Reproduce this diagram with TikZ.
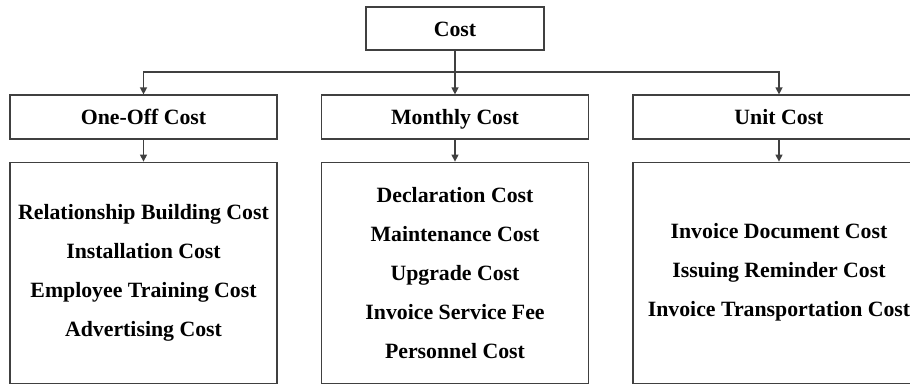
\documentclass[tikz,border=0pt]{standalone}
\usepackage{fontspec}
\setmainfont{Liberation Serif}
\usepackage{tikz}
\usetikzlibrary{arrows.meta}
\usetikzlibrary{positioning}
\tikzset{>={Triangle[length=7pt,width=7pt]}}
\definecolor{linegray}{RGB}{64,64,64}
\tikzstyle{costbox} = [rectangle, draw=linegray, line width=1.2pt, inner sep=0pt, font=\fontsize{21.8pt}{39pt}\selectfont\bfseries, align=center]
\tikzstyle{headbox} = [costbox, text height=15pt, text depth=0pt]
\tikzstyle{link} = [->, draw=linegray, line width=1.3pt]

\begin{document}
\begin{tikzpicture}[x=1pt, y=-1pt]
\useasboundingbox (0,0) rectangle (910,383);
\node [headbox, minimum width=178pt, minimum height=43pt] (cost) at (455, 28.5) {Cost};
\node [headbox, minimum width=267pt, minimum height=44pt] (oneoff) at (143.5, 117) {One-Off Cost};
\node [headbox, minimum width=267pt, minimum height=44pt] (monthly) at (455, 117) {Monthly Cost};
\node [headbox, minimum width=292pt, minimum height=44pt] (unit) at (779, 117) {Unit Cost};
\node [costbox, minimum width=267pt, minimum height=221pt, below=22pt of oneoff] (oneoffitems) {Relationship Building Cost\\ Installation Cost\\ Employee Training Cost\\ Advertising Cost};
\node [costbox, minimum width=267pt, minimum height=221pt, below=22pt of monthly] (monthlyitems) {Declaration Cost\\ Maintenance Cost\\ Upgrade Cost\\ Invoice Service Fee\\ Personnel Cost};
\node [costbox, minimum width=292pt, minimum height=221pt, below=22pt of unit] (unititems) {Invoice Document Cost\\ Issuing Reminder Cost\\ Invoice Transportation Cost};
\coordinate (split) at (455, 72);
\draw [link] (cost.south) -- (monthly.north);
\draw [link] (split) -| (oneoff.north);
\draw [link] (split) -| (unit.north);
\draw [link] (oneoff) -- (oneoffitems);
\draw [link] (monthly) -- (monthlyitems);
\draw [link] (unit) -- (unititems);
\end{tikzpicture}
\end{document}
